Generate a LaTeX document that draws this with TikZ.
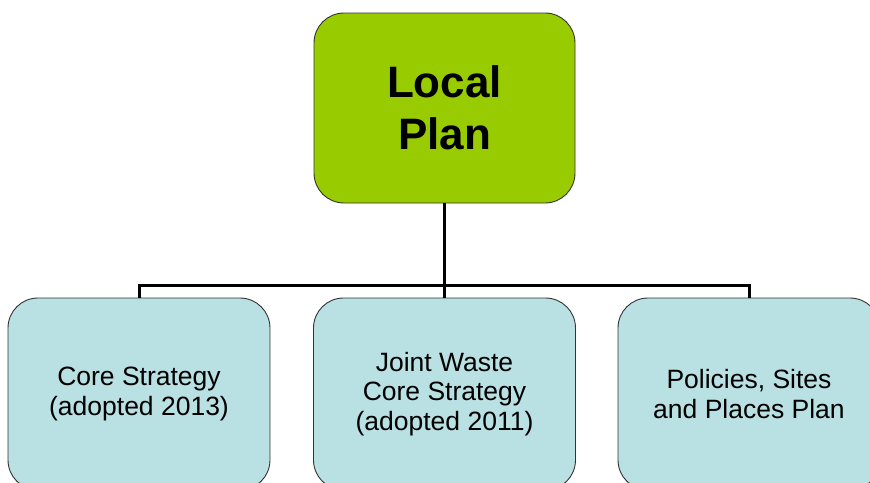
\documentclass[tikz,border=0pt]{standalone}
\usepackage{fontspec}
\setmainfont{Liberation Sans}
\usepackage{tikz}
\usetikzlibrary{positioning}

\definecolor{planGreen}{HTML}{99CC00}
\definecolor{docBlue}{HTML}{B9E0E3}

\begin{document}
\begin{tikzpicture}[x=1pt, y=-1pt,
    box/.style={draw=black!80, line width=0.9pt, rounded corners=30pt, align=center},
    planbox/.style={box, fill=planGreen, minimum width=261pt, minimum height=190pt,
        font=\fontsize{44}{52}\selectfont\bfseries},
    docbox/.style={box, fill=docBlue, minimum width=262pt, minimum height=192pt,
        font=\fontsize{26.5}{29.5}\selectfont},
    link/.style={line width=3pt}]
    \useasboundingbox (0,0) rectangle (870,482);
    \clip (0,0) rectangle (870,482);

    % Top level
    \node[planbox] (local) at (444.5,108) {Local\\Plan};

    % Documents
    \node[docbox] (core) at (139,394) {Core Strategy\\(adopted 2013)};
    \node[docbox] (waste) at (444.5,394) {Joint Waste\\Core Strategy\\(adopted 2011)};
    \node[docbox] (pspp) at (749,394) {Policies, Sites\\and Places Plan};

    % Tree lines
    \coordinate (bus) at (444.5,285);
    \draw[link] (local.south) -- (waste.north);
    \draw[link] (core.north) |- (bus) -| (pspp.north);
\end{tikzpicture}
\end{document}
